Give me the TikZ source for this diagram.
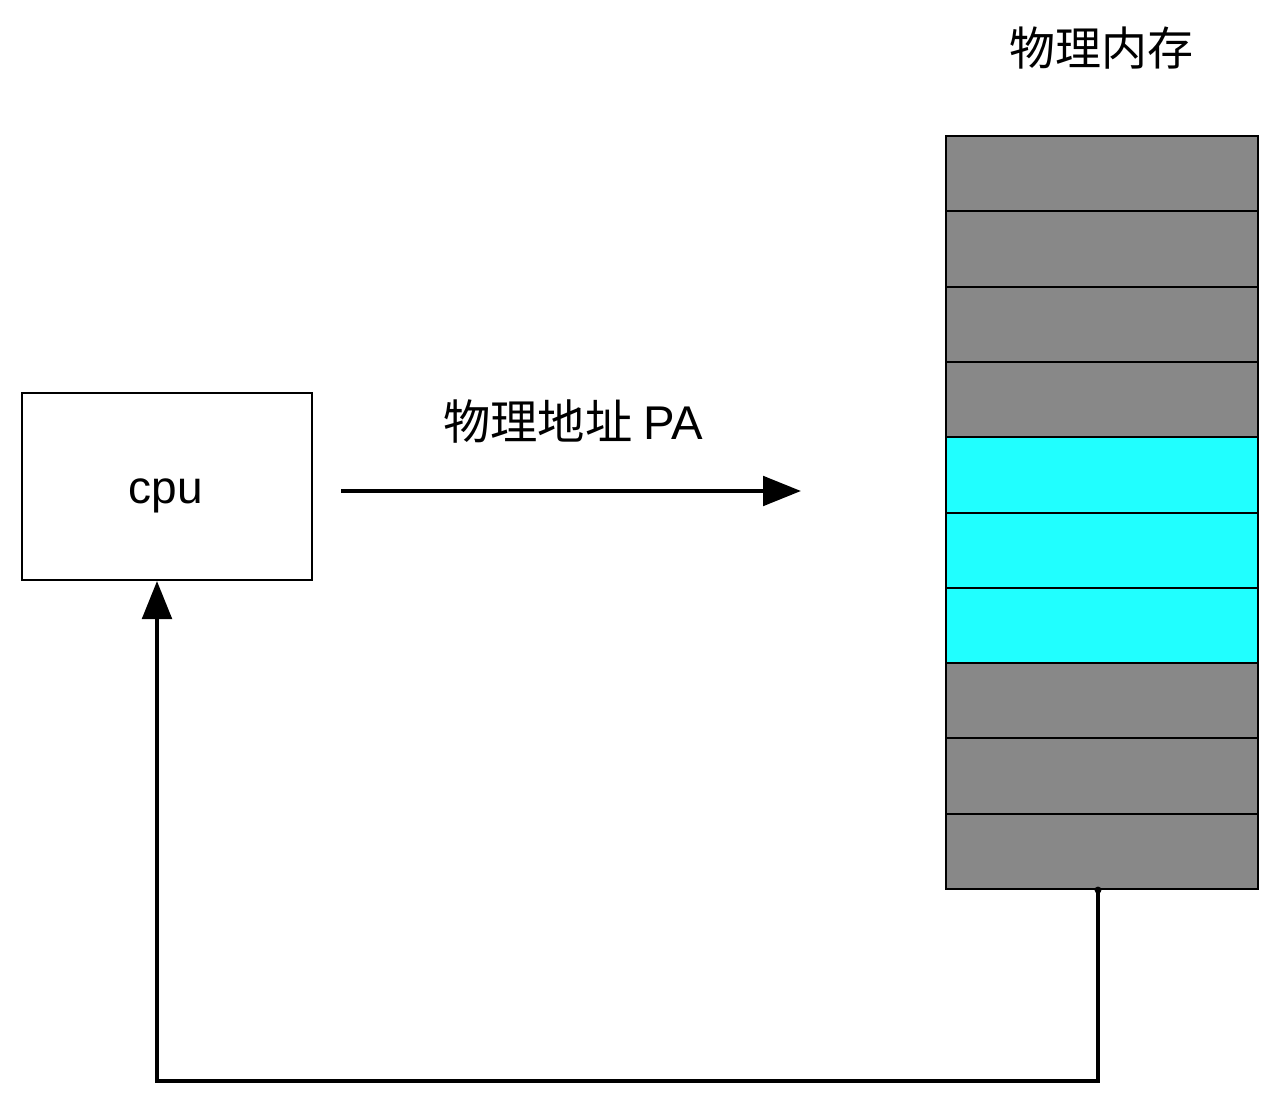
\documentclass[tikz,border=0pt]{standalone}
\usepackage{fontspec}
\setmainfont{Liberation Sans}
\newfontfamily\cjk{Noto Sans CJK SC}
\usetikzlibrary{arrows.meta}
\definecolor{memgray}{HTML}{888888}
\definecolor{memcyan}{HTML}{20FFFF}
\tikzset{
  lbl/.style={font=\fontsize{34.5}{40}\selectfont, inner sep=0pt},
  cell/.style={draw=black, line width=1.5pt, minimum width=234pt, minimum height=56.5pt, inner sep=0pt, anchor=north west},
  grayc/.style={cell, fill=memgray},
  cyanc/.style={cell, fill=memcyan},
  flow/.style={line width=3.2pt, -{Triangle[length=28.5pt,width=22pt]}},
}
\begin{document}
\begin{tikzpicture}[x=0.75pt,y=-0.75pt]
\useasboundingbox (0,0) rectangle (1288,1098);
% cpu box
\node[draw=black, line width=1.5pt, minimum width=217.5pt, minimum height=140.25pt, inner sep=0pt] (cpu) at (167,486.5) {};
\node[lbl, anchor=base] (cpulbl) at (166,503) {cpu};
% memory cells
\foreach \i/\st in {1/grayc,2/grayc,3/grayc,4/grayc,5/cyanc,6/cyanc,7/cyanc,8/grayc,9/grayc,10/grayc}{
  \node[\st] (m\i) at (945,{135+(\i-1)*75.3}) {};
}
\node[lbl] (title) at (1101,48) {\cjk 物理内存};
\node[lbl, font=\fontsize{35.5}{40}\selectfont] (pa) at (573,422) {\cjk 物理地址\ \rmfamily PA};
% arrows
\coordinate (aS) at (341,491);
\coordinate (aE) at (801,491);
\draw[flow] (aS) -- (aE);
\coordinate (fb) at ([xshift=-3pt]m10.south);
\coordinate (c1) at (157,1081);
\fill (fb) circle (2.6pt);
\draw[flow] (fb) |- (c1) -- (c1 |- cpu.south);
\end{tikzpicture}
\end{document}
